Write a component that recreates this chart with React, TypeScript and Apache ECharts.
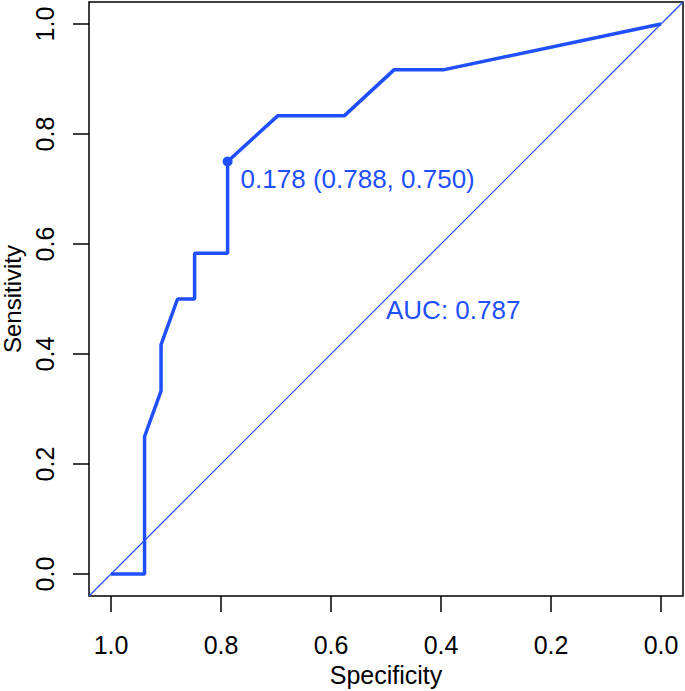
import React, { useEffect, useRef } from "react";
import * as echarts from "echarts";

const specificity = [1.0, 0.939, 0.939, 0.909, 0.909, 0.879, 0.848, 0.848, 0.788, 0.788, 0.697, 0.576, 0.485, 0.394, 0.0];
const sensitivity = [0.0, 0.0, 0.25, 0.333, 0.417, 0.5, 0.5, 0.583, 0.583, 0.75, 0.833, 0.833, 0.917, 0.917, 1.0];
const bestThreshold = [0.788, 0.75];
const bestLabel = "0.178 (0.788, 0.750)";
const aucLabel = "AUC: 0.787";
const aucPos = [0.5, 0.48];
const diagonal = [[1.04, -0.04], [-0.04, 1.04]];
const ticks = [0, 0.2, 0.4, 0.6, 0.8, 1.0];

const BLUE = "#1F4FFF";
const FONT = "Liberation Sans, Arial, sans-serif";

export default function App() {
  const ref = useRef<HTMLDivElement>(null);
  useEffect(() => {
    document.body.style.margin = "0";
    const chart = echarts.init(ref.current!, null, { renderer: "svg" });
    const roc = specificity.map((s, i) => [s, sensitivity[i]]);
    chart.setOption({
      animation: false,
      textStyle: { fontFamily: FONT },
      grid: {
        left: 89,
        top: 2,
        width: 594,
        height: 594,
        containLabel: false,
        outerBoundsMode: "none",
        show: true,
        borderColor: "#000",
        borderWidth: 1.5,
        backgroundColor: "#fff",
      },
      xAxis: {
        type: "value",
        inverse: true,
        min: -0.04,
        max: 1.04,
        splitLine: { show: false },
        axisLine: { show: false, onZero: false },
        axisTick: {
          show: true,
          length: 16,
          customValues: ticks,
          lineStyle: { color: "#000", width: 1.5 },
        },
        axisLabel: {
          customValues: ticks,
          formatter: (v: number) => v.toFixed(1),
          fontSize: 25,
          color: "#000",
          margin: 36,
          fontFamily: FONT,
        },
        name: "Specificity",
        nameLocation: "middle",
        nameGap: 66,
        nameTextStyle: { fontSize: 25, color: "#000", fontFamily: FONT },
      },
      yAxis: {
        type: "value",
        min: -0.04,
        max: 1.04,
        splitLine: { show: false },
        axisLine: { show: false, onZero: false },
        axisTick: {
          show: true,
          length: 16,
          customValues: ticks,
          lineStyle: { color: "#000", width: 1.5 },
        },
        axisLabel: {
          customValues: ticks,
          formatter: (v: number) => v.toFixed(1),
          fontSize: 25,
          color: "#000",
          margin: 32,
          rotate: 90,
          fontFamily: FONT,
        },
        name: "Sensitivity",
        nameLocation: "middle",
        nameRotate: 90,
        nameGap: 56,
        nameTextStyle: { fontSize: 24, color: "#000", fontFamily: FONT },
      },
      series: [
        {
          type: "line",
          data: diagonal,
          symbol: "none",
          lineStyle: { color: BLUE, width: 1.2 },
          silent: true,
        },
        {
          type: "line",
          data: roc,
          symbol: "none",
          lineStyle: { color: BLUE, width: 3.5 },
          silent: true,
        },
        {
          type: "scatter",
          data: [bestThreshold],
          symbolSize: 10,
          itemStyle: { color: BLUE, opacity: 1 },
          label: {
            show: true,
            formatter: bestLabel,
            position: "right",
            distance: 8,
            offset: [0, 17],
            fontSize: 26,
            color: BLUE,
            opacity: 1,
            fontFamily: FONT,
          },
          silent: true,
        },
        {
          type: "scatter",
          data: [aucPos],
          symbolSize: 0,
          itemStyle: { opacity: 1 },
          label: {
            show: true,
            formatter: aucLabel,
            position: "right",
            distance: 0,
            fontSize: 26,
            color: BLUE,
            opacity: 1,
            fontFamily: FONT,
          },
          silent: true,
        },
      ],
    });
    return () => chart.dispose();
  }, []);
  return <div ref={ref} style={{ width: 685, height: 691 }} />;
}
